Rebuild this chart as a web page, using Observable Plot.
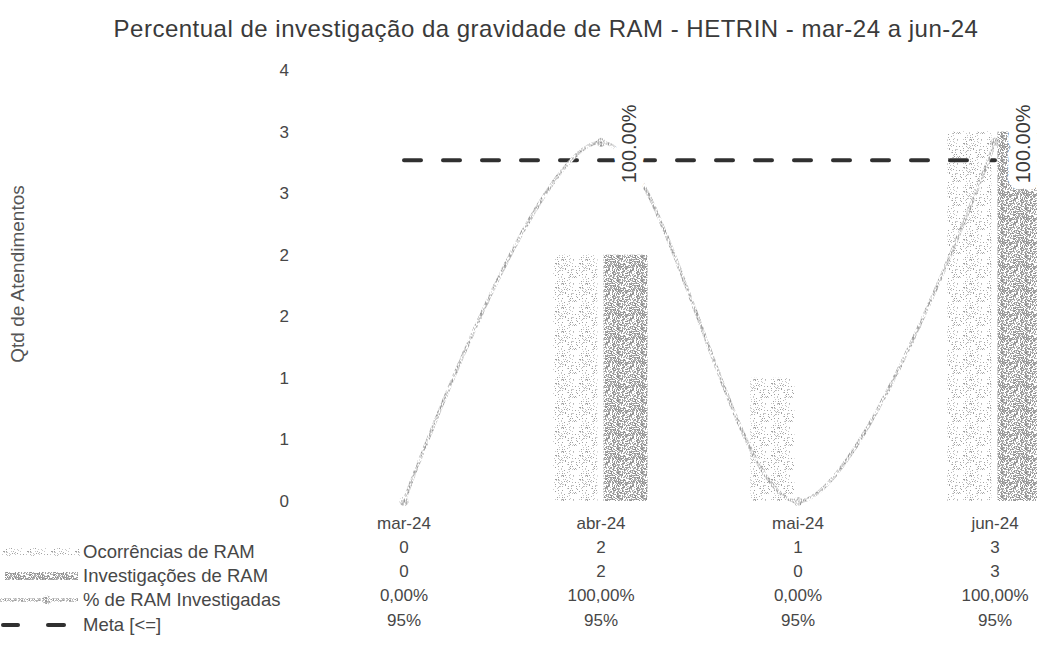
<!DOCTYPE html>
<html><head><meta charset="utf-8">
<script src="https://cdn.jsdelivr.net/npm/d3@7"></script>
<script src="https://cdn.jsdelivr.net/npm/@observablehq/plot@0.6"></script>
<style>
html,body{margin:0;padding:0;background:#fff;overflow:hidden;}
#wrap{position:relative;width:1037px;height:666px;overflow:hidden;font-family:"Liberation Sans",Arial,sans-serif;}
#title{position:absolute;left:0;width:1092px;top:15px;text-align:center;font-size:24px;letter-spacing:0.5px;color:#3a3a3a;white-space:nowrap;}
#chart{position:absolute;left:0;top:0;}
#chart svg{max-width:none !important;}
#legend{position:absolute;left:0;top:0;}
</style></head><body>
<svg width="0" height="0" style="position:absolute"><defs id="pats"></defs></svg>
<div id="wrap">
  <div id="chart"></div>
  <svg id="legend" width="320" height="666"></svg>
  <div id="title">Percentual de investigação da gravidade de RAM - HETRIN - mar-24 a jun-24</div>
</div>
<script>
// ---- data ----
const months = ["mar-24", "abr-24", "mai-24", "jun-24"];
const ocorrencias = [0, 2, 1, 3];
const investigacoes = [0, 2, 0, 3];
const pctInvestigadas = [0, 1, 0, 1];
const meta = [0.95, 0.95, 0.95, 0.95];
const seriesNames = ["Ocorrências de RAM", "Investigações de RAM", "% de RAM Investigadas", "Meta [<=]"];
const yTicks = [0, 0.5, 1, 1.5, 2, 2.5, 3, 3.5];
const leftMax = 3.5;   // primary axis max
const rightMax = 1.2;  // hidden secondary (percent) axis max

// ---- texture patterns ----
function fract(v){ return v - Math.floor(v); }
function hash(i, j, s){ return fract(Math.sin(i * 12.9898 + j * 78.233 + s * 37.719) * 43758.5453); }
function speck(id, size, density, colors, seed){
  const p = d3.select("#pats").append("pattern").attr("id", id)
    .attr("patternUnits", "userSpaceOnUse").attr("width", size).attr("height", size);
  p.append("rect").attr("width", size).attr("height", size).attr("fill", "#fff");
  for (let i = 0; i < size; i++) for (let j = 0; j < size; j++) {
    if (hash(i, j, seed) < density) {
      const c = colors[Math.floor(hash(j, i, seed + 5) * colors.length)];
      p.append("rect").attr("x", i).attr("y", j).attr("width", 1).attr("height", 1).attr("fill", c);
    }
  }
}
speck("patLight", 24, 0.14, ["#a0a0a0", "#b4b4b4", "#c8c8c8"], 1);
speck("patDark", 24, 0.55, ["#909090", "#a4a4a4", "#b8b8b8"], 2);
speck("patLine", 24, 0.5, ["#9a9a9a", "#b4b4b4", "#c8c8c8"], 3);

// ---- chart ----
const rows = months.map((m, i) => ({m, o: ocorrencias[i], inv: investigacoes[i], p: pctInvestigadas[i], meta: meta[i]}));
const k = leftMax / rightMax;
const W = 1100;
const rowDy = [27, 51, 75, 99, 124];
const fmtPct = v => (v * 100).toFixed(2).replace(".", ",") + "%";
const fmtMeta = v => Math.round(v * 100) + "%";
const txt = "#474747";

const plot = Plot.plot({
  width: W, height: 666,
  marginLeft: 304.5, marginRight: W - 1092.5, marginTop: 70, marginBottom: 165,
  style: {fontFamily: "Liberation Sans, Arial, sans-serif", fontSize: "17px", color: txt, background: "transparent", maxWidth: "none"},
  x: {domain: months, padding: 0, axis: null},
  y: {domain: [0, leftMax], axis: null},
  marks: [
    Plot.axisY({ticks: yTicks, tickSize: 0, tickPadding: 16, tickFormat: d => String(Math.round(d)), label: null, fill: txt}),
    Plot.barY(rows, {x: "m", y: "o", fill: "url(#patLight)", insetLeft: 51.5, insetRight: 101.5}),
    Plot.barY(rows, {x: "m", y: "inv", fill: "url(#patDark)", insetLeft: 101.5, insetRight: 51.5}),
    Plot.lineY(rows, {x: "m", y: d => d.meta * k, stroke: "#303030", strokeWidth: 4, strokeDasharray: "17,22", strokeLinecap: "round"}),
    Plot.lineY(rows, {x: "m", y: d => d.p * k, stroke: "url(#patLine)", strokeWidth: 3.5, curve: "catmull-rom"}),
    Plot.dot(rows, {x: "m", y: d => d.p * k, r: 4.5, fill: "url(#patLine)", stroke: null}),
    Plot.text(rows.filter(d => d.p > 0), {x: "m", y: d => d.p * k, text: d => (d.p * 100).toFixed(2) + "%",
      rotate: -90, textAnchor: "start", lineAnchor: "middle", dx: 29, dy: 41, fontSize: 20,
      fill: "#3a3a3a", stroke: "white", strokeWidth: 16, strokeLinejoin: "round"}),
    // data table
    Plot.text(rows, {x: "m", text: "m", frameAnchor: "bottom", dy: rowDy[0], fill: txt}),
    Plot.text(rows, {x: "m", text: d => String(d.o), frameAnchor: "bottom", dy: rowDy[1], fill: txt}),
    Plot.text(rows, {x: "m", text: d => String(d.inv), frameAnchor: "bottom", dy: rowDy[2], fill: txt}),
    Plot.text(rows, {x: "m", text: d => fmtPct(d.p), frameAnchor: "bottom", dy: rowDy[3], fill: txt}),
    Plot.text(rows, {x: "m", text: d => fmtMeta(d.meta), frameAnchor: "bottom", dy: rowDy[4], fill: txt}),
    // y axis title
    Plot.text(["Qtd de Atendimentos"], {frameAnchor: "left", textAnchor: "middle", rotate: -90, dx: -287, dy: -12, fill: "#555", fontSize: 19})
  ]
});
document.getElementById("chart").appendChild(plot);

// ---- legend keys of the data table ----
const base = 501;
const lg = d3.select("#legend");
const ly = rowDy.slice(1).map(d => base + d);
lg.append("rect").attr("x", 0).attr("y", ly[0] - 4).attr("width", 80).attr("height", 8).attr("fill", "url(#patLight)");
lg.append("rect").attr("x", 5).attr("y", ly[1] - 4).attr("width", 73).attr("height", 8).attr("fill", "url(#patDark)");
lg.append("line").attr("x1", 0).attr("x2", 78).attr("y1", ly[2]).attr("y2", ly[2]).attr("stroke", "url(#patLine)").attr("stroke-width", 3.5);
lg.append("circle").attr("cx", 47).attr("cy", ly[2]).attr("r", 4.5).attr("fill", "url(#patLine)");
lg.append("line").attr("x1", 3).attr("x2", 18).attr("y1", ly[3]).attr("y2", ly[3]).attr("stroke", "#303030").attr("stroke-width", 4).attr("stroke-linecap", "round");
lg.append("line").attr("x1", 48).attr("x2", 64).attr("y1", ly[3]).attr("y2", ly[3]).attr("stroke", "#303030").attr("stroke-width", 4).attr("stroke-linecap", "round");
lg.selectAll("text.lbl").data(seriesNames).join("text").attr("class", "lbl")
  .attr("x", 83).attr("y", (d, i) => ly[i]).attr("dy", "0.35em")
  .attr("font-family", "Liberation Sans, Arial, sans-serif").attr("font-size", 18.5).attr("fill", txt)
  .text(d => d);
</script>
</body></html>
